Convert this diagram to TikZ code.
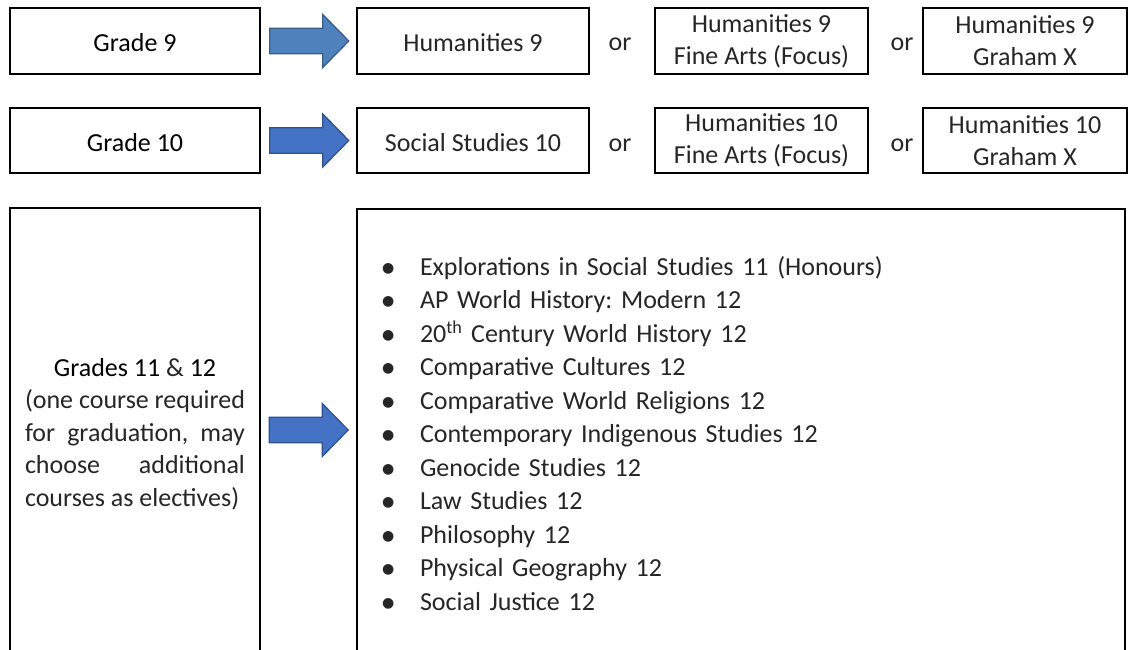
\documentclass[tikz,border=0pt]{standalone}
\usepackage{fontspec}
\setmainfont{Carlito}
\newfontfamily\dejavu{DejaVu Sans}
\usetikzlibrary{calc}
\frenchspacing
\definecolor{arrowA}{HTML}{4F81BD}
\definecolor{arrowAline}{HTML}{385D8A}
\definecolor{arrowB}{HTML}{4472C4}
\definecolor{arrowBline}{HTML}{2F528F}
\definecolor{lighttext}{HTML}{262626}
\newcommand\rg[1]{{\color{black}#1}}
\newcommand\bul{\makebox[35pt][l]{\hspace*{-3pt}\raisebox{3pt}{\dejavu\fontsize{14}{14}\selectfont ●}}}
\newcommand\blkarrow[3]{%
  \draw[line width=1.3pt,fill=#2,draw=#3,line join=miter]
    ($#1+(9,-12.75)$) -- ++(53,0) -- ++(0,-13.75) -- ++(26,26.5)
    -- ++(-26,26.5) -- ++(0,-13.75) -- ++(-53,0) -- cycle;}
\begin{document}
\begin{tikzpicture}[x=1pt,y=-1pt,
  box/.style={draw,line width=1.5pt,inner sep=0pt,align=center,
    font=\fontsize{26}{32}\selectfont,text=lighttext},
  one/.style={text height=22pt,text depth=0pt},
  ortext/.style={anchor=base,inner sep=0pt,font=\fontsize{26}{32}\selectfont,text=lighttext},
  open/.style={inner sep=0pt,text=lighttext},
  frame/.style={line width=1.5pt}]
\useasboundingbox (0,0) rectangle (1129,650);
\fill[white] (0,0) rectangle (1129,650);

% Row 1
\node[box,one,minimum width=250,minimum height=66] (g9) at (135,41) {\rg{Grade 9}};
\node[box,one,minimum width=232,minimum height=66] (h9) at (473,41) {Humanities 9};
\node[ortext] (or1) at (620,51) {or};
\node[box,minimum width=213,minimum height=66] (h9f) at (761.5,41) {Humanities 9\\Fine Arts (Focus)};
\node[ortext] (or2) at (902,51) {or};
\node[box,minimum width=204,minimum height=66] (h9g) at (1025,41) {Humanities 9\\Graham X};

% Row 2
\node[box,one,minimum width=250,minimum height=65] (g10) at (135,140.5) {\rg{Grade 10}};
\node[box,one,minimum width=232,minimum height=65] (s10) at (473,140.5) {Social Studies 10};
\node[ortext] (or3) at (620,151) {or};
\node[box,minimum width=213,minimum height=65] (h10f) at (761.5,140.5) {Humanities 10\\Fine Arts (Focus)};
\node[ortext] (or4) at (902,151) {or};
\node[box,minimum width=204,minimum height=65] (h10g) at (1025,140.5) {Humanities 10\\Graham X};

% Row 3
\node[open,minimum width=250,minimum height=452,align=center,
  font=\fontsize{26}{32.5}\selectfont] (g11) at (135,434)
  {\rg{Grades 11} \& \rg{12}\\
   \makebox[220pt][s]{(one course required}\\
   \makebox[220pt][s]{for graduation, may}\\
   \makebox[220pt][s]{choose additional}\\
   \makebox[220pt][l]{courses as electives)}};
\draw[frame] (g11.south west) -- (g11.north west) -- (g11.north east) -- (g11.south east);

\node[open,minimum width=768,minimum height=449,text width=712,align=left,
  font=\fontsize{26}{33.5}\selectfont] (list) at (741,433.5)
  {\bul Explorations in Social Studies 11 (Honours)\\
   \bul AP World History: Modern 12\\
   \bul 20\textsuperscript{th} Century World History 12\\
   \bul Comparative Cultures 12\\
   \bul Comparative World Religions 12\\
   \bul Contemporary Indigenous Studies 12\\
   \bul Genocide Studies 12\\
   \bul Law Studies 12\\
   \bul Philosophy 12\\
   \bul Physical Geography 12\\
   \bul Social Justice 12};
\draw[frame] (list.south west) -- (list.north west) -- (list.north east) -- (list.south east);

% Arrows
\blkarrow{(g9.east)}{arrowA}{arrowAline}
\blkarrow{(g10.east)}{arrowB}{arrowBline}
\blkarrow{([yshift=4pt]g11.east)}{arrowB}{arrowBline}
\end{tikzpicture}
\end{document}
